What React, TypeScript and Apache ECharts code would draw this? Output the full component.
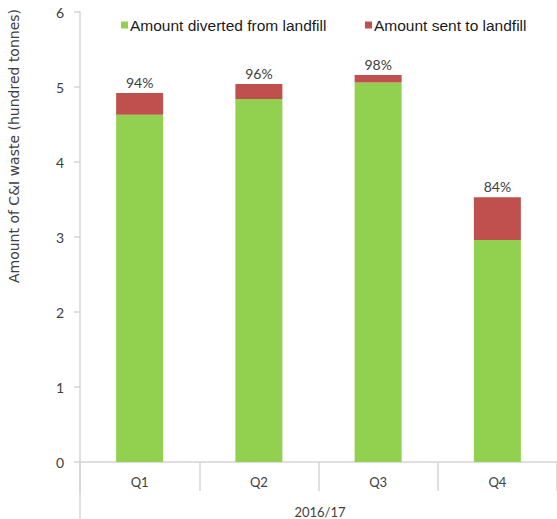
import React, { useEffect, useRef } from "react";
import * as echarts from "echarts";

// Quarterly C&I waste, hundred tonnes
const quarters = ["Q1", "Q2", "Q3", "Q4"];
const divertedFromLandfill = [4.63, 4.84, 5.06, 2.96];
const sentToLandfill = [0.29, 0.2, 0.1, 0.57];
const yTicks = { min: 0, max: 6, interval: 1 };
const yearLabel = "2016/17";
const yAxisTitle = "Amount of C&I waste (hundred tonnes)";
const seriesNames = ["Amount diverted from landfill", "Amount sent to landfill"];

const GREEN = "#92D050";
const RED = "#C0504D";
const AXIS_GREY = "#D4D4D4";
const TEXT_GREY = "#404040";
const AXIS_FONT = "Lato, 'Noto Sans', sans-serif";
const LEGEND_FONT = "'Liberation Sans', Arial, sans-serif";

const legendBase = {
  top: 12,
  itemWidth: 7,
  itemHeight: 7,
  icon: "rect",
  textStyle: {
    fontFamily: LEGEND_FONT,
    fontSize: 15.5,
    color: "#1a1a1a",
    padding: [0, 0, 0, -3],
  },
};

export default function App() {
  const ref = useRef<HTMLDivElement>(null);

  useEffect(() => {
    if (!ref.current) return;
    const chart = echarts.init(ref.current, undefined, { renderer: "svg" });

    const diversionRate = (i: number) =>
      Math.round(
        (divertedFromLandfill[i] / (divertedFromLandfill[i] + sentToLandfill[i])) * 100
      );

    chart.setOption({
      animation: false,
      backgroundColor: "#ffffff",
      grid: { left: 80, right: -3, top: 12, bottom: 57, containLabel: false },
      legend: [
        { ...legendBase, left: 116, data: [seriesNames[0]] },
        { ...legendBase, left: 360, data: [seriesNames[1]] },
      ],
      xAxis: {
        type: "category",
        data: quarters,
        axisLine: { lineStyle: { color: AXIS_GREY, width: 1.5 } },
        axisTick: {
          show: true,
          alignWithLabel: false,
          length: 29,
          lineStyle: { color: AXIS_GREY, width: 1.5 },
        },
        axisLabel: {
          color: TEXT_GREY,
          fontFamily: AXIS_FONT,
          fontSize: 13,
          margin: 13,
        },
      },
      yAxis: {
        type: "value",
        min: yTicks.min,
        max: yTicks.max,
        interval: yTicks.interval,
        splitLine: { show: false },
        axisLine: { show: true, lineStyle: { color: AXIS_GREY, width: 1.5 } },
        axisTick: { show: true, length: 6, lineStyle: { color: AXIS_GREY, width: 1.5 } },
        axisLabel: {
          color: TEXT_GREY,
          fontFamily: AXIS_FONT,
          fontSize: 14,
          margin: 16,
        },
      },
      graphic: [
        {
          type: "line",
          shape: { x1: 80, y1: 462, x2: 80, y2: 519 },
          style: { stroke: AXIS_GREY, lineWidth: 1.5 },
          silent: true,
        },
        {
          type: "text",
          x: 320,
          y: 512,
          style: {
            text: yearLabel,
            fill: TEXT_GREY,
            font: `13px ${AXIS_FONT}`,
            textAlign: "center",
            textVerticalAlign: "middle",
          },
        },
        {
          type: "text",
          x: 14,
          y: 146,
          rotation: Math.PI / 2,
          style: {
            text: yAxisTitle,
            fill: TEXT_GREY,
            font: "14px 'DejaVu Sans', sans-serif",
            textAlign: "center",
            textVerticalAlign: "middle",
          },
        },
      ],
      series: [
        {
          name: seriesNames[0],
          type: "bar",
          stack: "waste",
          barWidth: 47,
          itemStyle: { color: GREEN },
          data: divertedFromLandfill,
        },
        {
          name: seriesNames[1],
          type: "bar",
          stack: "waste",
          barWidth: 47,
          itemStyle: { color: RED },
          data: sentToLandfill,
          label: {
            show: true,
            position: "top",
            distance: 4,
            color: TEXT_GREY,
            fontFamily: AXIS_FONT,
            fontSize: 14,
            formatter: (p: { dataIndex: number }) => `${diversionRate(p.dataIndex)}%`,
          },
        },
      ],
    });

    return () => chart.dispose();
  }, []);

  return (
    <div
      ref={ref}
      style={{ position: "absolute", left: 0, top: 0, width: 557, height: 519 }}
    />
  );
}
